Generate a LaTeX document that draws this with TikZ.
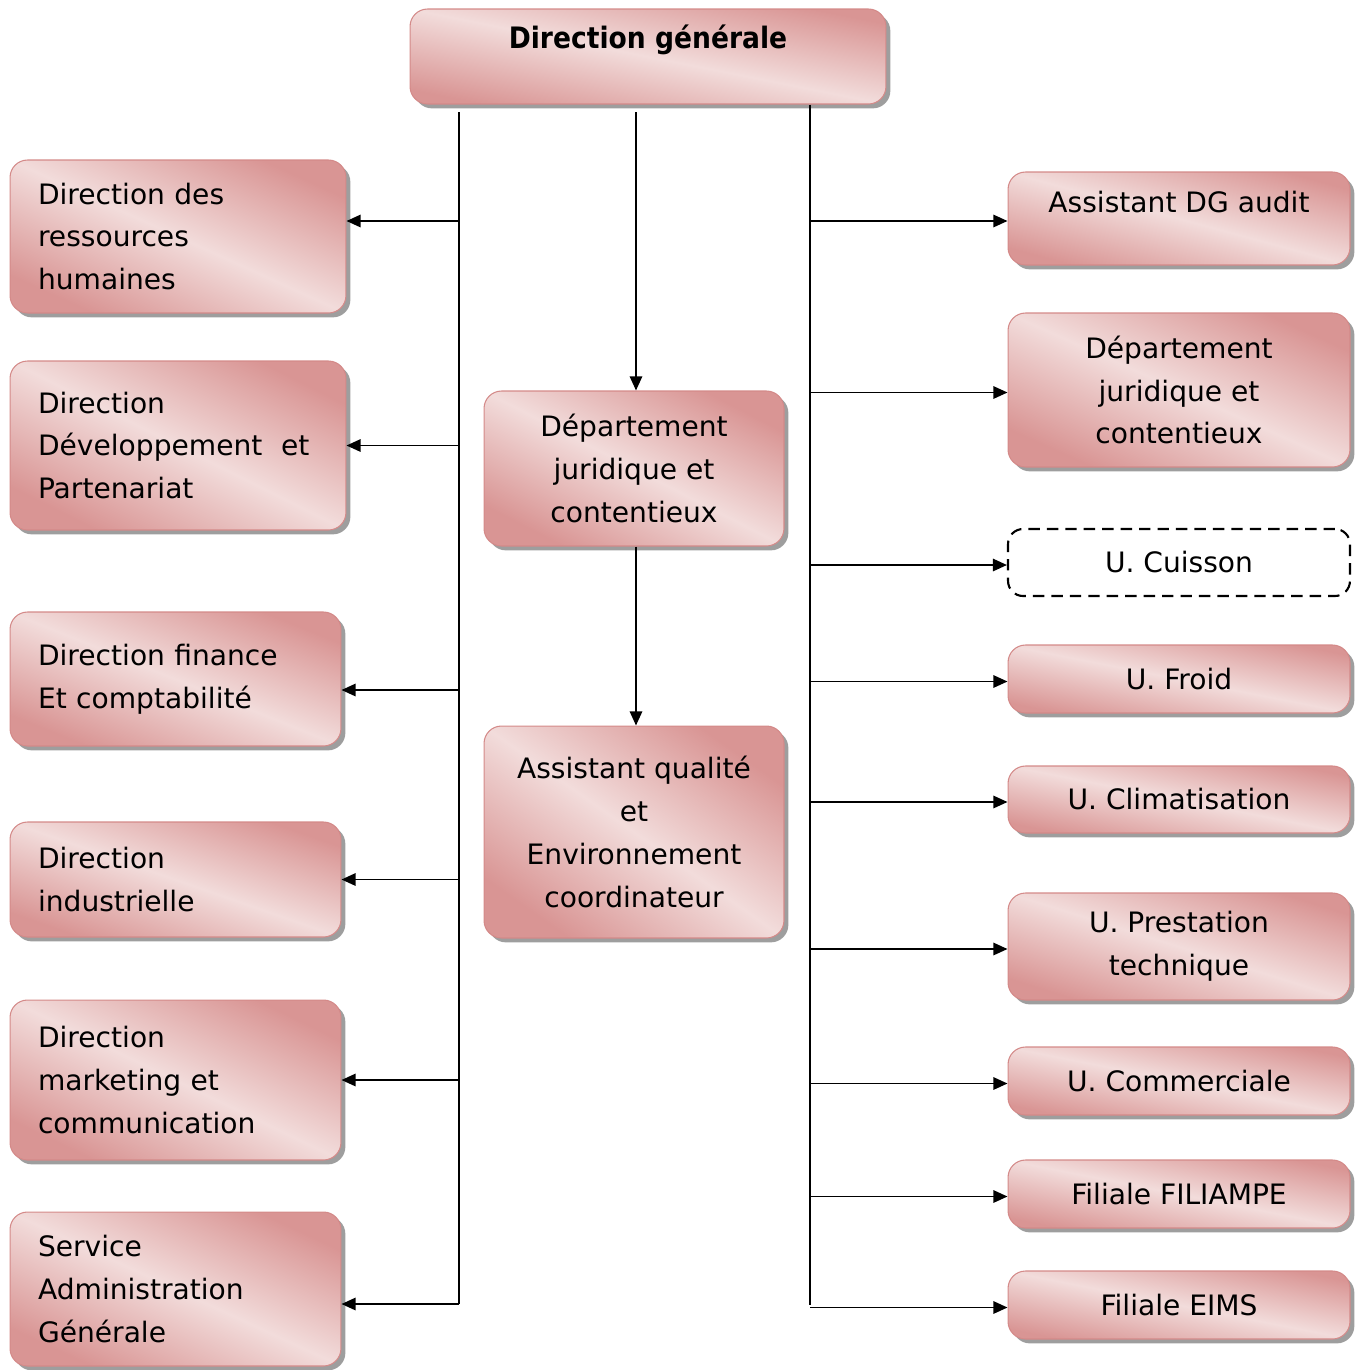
\documentclass[tikz,border=0pt]{standalone}
\usepackage{fontspec}
\setmainfont{DejaVu Sans}
\newfontfamily\titlefont{DejaVu Sans}[FakeStretch=0.9]
\usetikzlibrary{arrows.meta,shadows}

\definecolor{rosedark}{HTML}{D99594}
\definecolor{roselight}{HTML}{F2DCDB}
\definecolor{roseedge}{HTML}{D48A89}

\tikzset{
  % light band along the box diagonal: angle = 180 - atan(h/w)
  unitbox/.style={draw=roseedge, line width=0.6pt, rounded corners=0.35cm,
    left color=rosedark, right color=rosedark, middle color=roselight,
    shading angle=#1,
    drop shadow={shadow xshift=2.5pt, shadow yshift=-2.5pt, fill=black!38, opacity=1},
    font=\fontsize{16}{24.4}\selectfont, inner sep=0pt},
  unitbox/.default=160,
  leftbox/.style={unitbox=155, align=left, text width=#1, inner xsep=0.56cm},
  rightbox/.style={unitbox=#1, align=center, minimum width=6.84cm},
  rightbox/.default=168.8,
  dashbox/.style={draw, dashed, line width=1.2pt, dash pattern=on 6.5pt off 4pt,
    rounded corners=0.3cm, fill=white, minimum width=6.84cm,
    font=\fontsize{16}{24.4}\selectfont},
  link/.style={line width=1.1pt, -{Triangle[length=8pt,width=7pt]}},
  trunk/.style={line width=1.1pt}
}

\begin{document}
\begin{tikzpicture}[x=0.02cm, y=-0.02cm]

    \useasboundingbox (0,0) rectangle (1358,1370);

    % Top of the chart
    \node[unitbox=168.7, minimum width=9.52cm, minimum height=1.9cm, text depth=0.81cm,
      font=\titlefont\bfseries\fontsize{16.8}{20}\selectfont] (dg) at (648,56.5) {Direction générale};

    % Left column (text left aligned)
    \node[leftbox=5.6cm, minimum height=3.06cm, shading angle=155.5] (drh) at (178,236.5)
      {Direction des\\ressources\\humaines};
    \node[leftbox=5.6cm, minimum height=3.38cm, shading angle=153.3] (ddp) at (178,445.5)
      {Direction\\Développement\ \ et\\Partenariat};
    \node[leftbox=5.5cm, minimum height=2.68cm, shading angle=158] (dfc) at (175.5,679)
      {Direction finance\\Et comptabilité};
    \node[leftbox=5.5cm, minimum height=2.3cm, shading angle=160.8] (dind) at (175.5,879.5)
      {Direction\\industrielle};
    \node[leftbox=5.5cm, minimum height=3.2cm, shading angle=154.2] (dmc) at (175.5,1080)
      {Direction\\marketing et\\communication};
    \node[leftbox=5.5cm, minimum height=3.08cm, shading angle=155.1] (sag) at (175.5,1289)
      {Service\\Administration\\Générale};

    % Middle column
    \node[unitbox=152.7, align=center, minimum width=6cm, minimum height=3.1cm] (djc) at (634,468.5)
      {Département\\juridique et\\contentieux};
    \node[unitbox=144.8, align=center, minimum width=6cm, minimum height=4.24cm] (aqe) at (634,832)
      {Assistant qualité\\et\\Environnement\\coordinateur};

    % Right column
    \node[rightbox=164.8, minimum height=1.86cm, text depth=0.65cm] (adg) at (1179,218.5) {Assistant DG audit};
    \node[rightbox=155.8, minimum height=3.08cm] (djcr) at (1179,390)
      {Département\\juridique et\\contentieux};
    \node[dashbox, minimum height=1.34cm] (ucuis) at (1179,562.5) {U. Cuisson};
    \node[rightbox, minimum height=1.36cm] (ufroid) at (1179,679) {U. Froid};
    \node[rightbox, minimum height=1.34cm] (uclim) at (1179,799.5) {U. Climatisation};
    \node[rightbox=162.6, minimum height=2.14cm] (uprest) at (1179,946.5) {U. Prestation\\technique};
    \node[rightbox, minimum height=1.36cm] (ucom) at (1179,1081) {U. Commerciale};
    \node[rightbox, minimum height=1.36cm] (ffil) at (1179,1194) {Filiale FILIAMPE};
    \node[rightbox, minimum height=1.36cm] (feims) at (1179,1305) {Filiale EIMS};

    % Trunk lines
    \coordinate (ltop) at (459,112);
    \coordinate (ctop) at (636,112);
    \coordinate (rtop) at (dg.south -| 810,0);
    \coordinate (lend) at ([yshift=-0.3cm]sag.east -| ltop);
    \coordinate (rend) at (feims.west -| rtop);
    \draw[trunk] (ltop) -- (lend);
    \draw[trunk] (rtop) -- (rend);

    % Left arrows
    \draw[link] ([yshift=0.31cm]drh.east -| ltop) -- ([yshift=0.31cm]drh.east);
    \draw[link] (ddp.east -| ltop) -- (ddp.east);
    \draw[link] ([yshift=-0.22cm]dfc.east -| ltop) -- ([yshift=-0.22cm]dfc.east);
    \draw[link] (dind.east -| ltop) -- (dind.east);
    \draw[link] (dmc.east -| ltop) -- (dmc.east);
    \draw[link] (lend) -- ([yshift=-0.3cm]sag.east);

    % Middle arrows
    \draw[link] (ctop) -- (djc.north -| ctop);
    \draw[link] (djc.south -| ctop) -- (aqe.north -| ctop);

    % Right arrows
    \foreach \n in {adg,djcr,ucuis,ufroid,uclim,uprest,ucom,ffil,feims}
      \draw[link] ([yshift=-0.05cm]\n.west -| rtop) -- ([yshift=-0.05cm]\n.west);

\end{tikzpicture}
\end{document}
